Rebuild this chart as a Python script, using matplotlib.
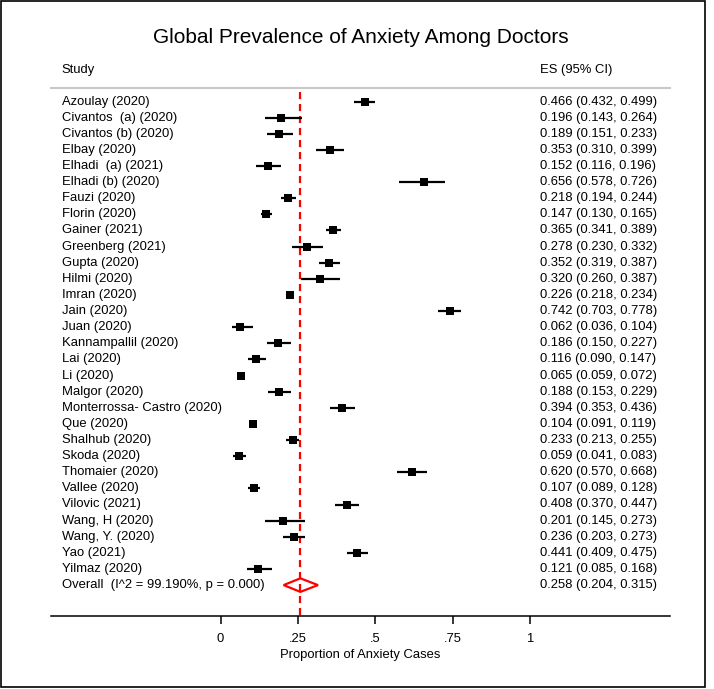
import matplotlib
matplotlib.use("Agg")
import matplotlib.pyplot as plt
import matplotlib.transforms as mtransforms
from matplotlib.patches import Polygon, Rectangle

plt.rcParams['font.family'] = ['Liberation Sans', 'DejaVu Sans']

studies = ["Azoulay (2020)", "Civantos  (a) (2020)", "Civantos (b) (2020)", "Elbay (2020)",
           "Elhadi  (a) (2021)", "Elhadi (b) (2020)", "Fauzi (2020)", "Florin (2020)",
           "Gainer (2021)", "Greenberg (2021)", "Gupta (2020)", "Hilmi (2020)",
           "Imran (2020)", "Jain (2020)", "Juan (2020)", "Kannampallil (2020)",
           "Lai (2020)", "Li (2020)", "Malgor (2020)", "Monterrossa- Castro (2020)",
           "Que (2020)", "Shalhub (2020)", "Skoda (2020)", "Thomaier (2020)",
           "Vallee (2020)", "Vilovic (2021)", "Wang, H (2020)", "Wang, Y. (2020)",
           "Yao (2021)", "Yilmaz (2020)"]
es = [0.466, 0.196, 0.189, 0.353, 0.152, 0.656, 0.218, 0.147, 0.365, 0.278,
      0.352, 0.320, 0.226, 0.742, 0.062, 0.186, 0.116, 0.065, 0.188, 0.394,
      0.104, 0.233, 0.059, 0.620, 0.107, 0.408, 0.201, 0.236, 0.441, 0.121]
lo = [0.432, 0.143, 0.151, 0.310, 0.116, 0.578, 0.194, 0.130, 0.341, 0.230,
      0.319, 0.260, 0.218, 0.703, 0.036, 0.150, 0.090, 0.059, 0.153, 0.353,
      0.091, 0.213, 0.041, 0.570, 0.089, 0.370, 0.145, 0.203, 0.409, 0.085]
hi = [0.499, 0.264, 0.233, 0.399, 0.196, 0.726, 0.244, 0.165, 0.389, 0.332,
      0.387, 0.387, 0.234, 0.778, 0.104, 0.227, 0.147, 0.072, 0.229, 0.436,
      0.119, 0.255, 0.083, 0.668, 0.128, 0.447, 0.273, 0.273, 0.475, 0.168]
overall_label = "Overall  (I^2 = 99.190%, p = 0.000)"
overall_es, overall_lo, overall_hi = 0.258, 0.204, 0.315
xticks = [0, 0.25, 0.5, 0.75, 1]
xtick_labels = ["0", ".25", ".5", ".75", "1"]

W, H = 714, 689
fig = plt.figure(figsize=(W / 100, H / 100), dpi=100)

def fx(px):
    return px / W

def fy(py):
    return 1 - py / H

ax_left, ax_right, ax_top, ax_bottom = 51, 670, 60, 616
ax = fig.add_axes([fx(ax_left), fy(ax_bottom), fx(ax_right - ax_left), (ax_bottom - ax_top) / H])

x0_px, x1_px = 220.5, 530.0
ppu = x1_px - x0_px
ax.set_xlim((ax_left - x0_px) / ppu, (ax_right - x0_px) / ppu)
row0, rstep = 101.5, 16.12
ax.set_ylim((ax_bottom - row0) / rstep, (ax_top - row0) / rstep)

n = len(studies)
rows = list(range(n))
for r, e, l, h in zip(rows, es, lo, hi):
    ax.plot([l, h], [r, r], color='black', lw=1.6, solid_capstyle='butt', zorder=3)
ax.plot(es, rows, linestyle='none', marker='s', markersize=5.6, markeredgewidth=0,
        color='black', zorder=4)

# overall diamond
ro = n
dh = 0.42
diamond = Polygon([[overall_lo, ro], [overall_es, ro - dh], [overall_hi, ro], [overall_es, ro + dh]],
                  closed=True, fill=False, edgecolor='red', lw=1.6, zorder=5)
ax.add_patch(diamond)

# dashed overall line
ytop_line = (92 - row0) / rstep
ax.plot([overall_es, overall_es], [ytop_line, (ax_bottom - row0) / rstep], color='red', lw=1.6,
        linestyle=(0, (3.2, 2.2)), zorder=2, clip_on=False)

# gray header line
ax.plot([0, 1], [(88.3 - row0) / rstep] * 2,
        transform=mtransforms.blended_transform_factory(ax.transAxes, ax.transData),
        color='#c8c8c8', lw=1.5, clip_on=False)

bt = mtransforms.blended_transform_factory(fig.transFigure, ax.transData)
fs = 9.4
ax.text(fx(61.5), (70 - row0) / rstep, "Study", transform=bt, fontsize=fs, va='center', ha='left')
ax.text(fx(540.5), (70 - row0) / rstep, "ES (95% CI)", transform=bt, fontsize=fs, va='center', ha='left')
for r, s, e, l, h in zip(rows, studies, es, lo, hi):
    ax.text(fx(61.5), r, s, transform=bt, fontsize=fs, va='center', ha='left')
    ax.text(fx(540.5), r, f"{e:.3f} ({l:.3f}, {h:.3f})", transform=bt, fontsize=fs, va='center', ha='left')
ax.text(fx(61.5), ro, overall_label, transform=bt, fontsize=fs, va='center', ha='left')
ax.text(fx(540.5), ro, f"{overall_es:.3f} ({overall_lo:.3f}, {overall_hi:.3f})", transform=bt,
        fontsize=fs, va='center', ha='left')

for s in ['top', 'left', 'right']:
    ax.spines[s].set_visible(False)
ax.spines['bottom'].set_linewidth(1.1)
ax.set_yticks([])
ax.set_xticks(xticks)
ax.set_xticklabels(xtick_labels, fontsize=fs)
ax.tick_params(axis='x', length=5.8, width=1.1, pad=6.5, direction='out')
ax.set_xlabel("Proportion of Anxiety Cases", fontsize=fs, labelpad=2.5)
ax.patch.set_visible(False)

fig.text(fx(360.5), fy(37.7), "Global Prevalence of Anxiety Among Doctors", fontsize=15,
         ha='center', va='center')

fig.patches.append(Rectangle((fx(1), fy(687)), fx(704), (686) / H, transform=fig.transFigure,
                             fill=False, edgecolor='black', lw=1.2))

fig.savefig("out.png", dpi=100)
